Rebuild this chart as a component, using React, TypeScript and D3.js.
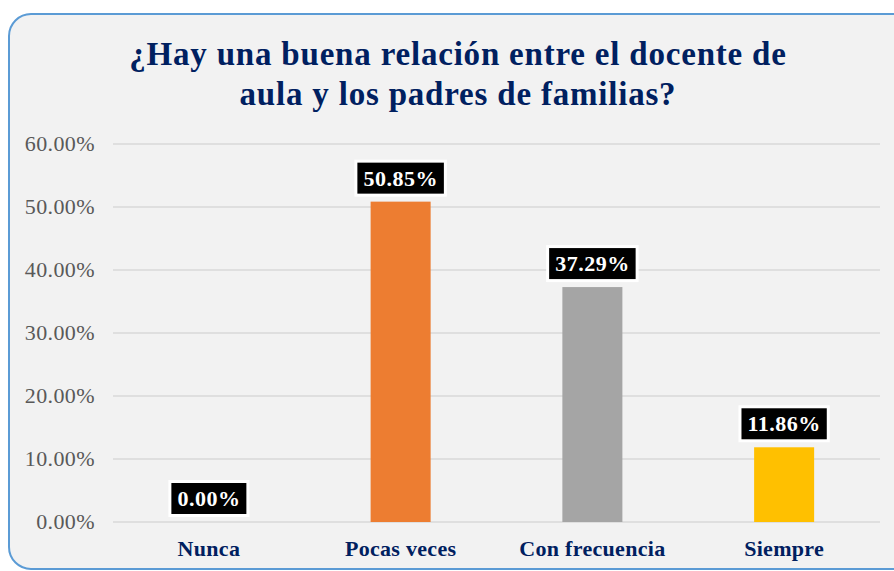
import React, { useEffect, useRef } from "react";
import * as d3 from "d3";

const categories = ["Nunca", "Pocas veces", "Con frecuencia", "Siempre"];
const values = [0, 50.85, 37.29, 11.86];
const barColors = ["#4472C4", "#ED7D31", "#A5A5A5", "#FFC000"];
const yTicks = [0, 10, 20, 30, 40, 50, 60];
const titleLines = ["¿Hay una buena relación entre el docente de", "aula y los padres de familias?"];

const W = 894;
const H = 571;
const SERIF = "'Liberation Serif', 'Times New Roman', serif";

export default function App() {
  const ref = useRef<SVGSVGElement | null>(null);

  useEffect(() => {
    const svg = d3.select(ref.current);
    svg.selectAll("*").remove();

    svg.append("rect").attr("x", 0).attr("y", 0).attr("width", W).attr("height", H).attr("fill", "#FFFFFF");
    svg
      .append("rect")
      .attr("x", 9)
      .attr("y", 14)
      .attr("width", 905)
      .attr("height", 555)
      .attr("rx", 22)
      .attr("fill", "#F2F2F2")
      .attr("stroke", "#5B9BD5")
      .attr("stroke-width", 2);

    const x = d3.scaleBand<string>().domain(categories).range([113, 880]).paddingInner(0.687).paddingOuter(0.3435);
    const y = d3.scaleLinear().domain([0, 60]).range([522, 144]);

    // title
    svg
      .append("g")
      .selectAll("text")
      .data(titleLines)
      .join("text")
      .attr("x", 458)
      .attr("y", (_d, i) => 65 + i * 40)
      .attr("text-anchor", "middle")
      .attr("font-family", SERIF)
      .attr("font-weight", "bold")
      .attr("font-size", 33)
      .attr("letter-spacing", 0.8)
      .attr("fill", "#002060")
      .text((d) => d);

    // grid
    const g = svg.append("g");
    g.selectAll("line.grid")
      .data(yTicks)
      .join("line")
      .attr("class", "grid")
      .attr("x1", 113)
      .attr("x2", 880)
      .attr("y1", (d) => y(d))
      .attr("y2", (d) => y(d))
      .attr("stroke", "#D9D9D9")
      .attr("stroke-width", 1.5);

    g.selectAll("text.tick")
      .data(yTicks)
      .join("text")
      .attr("class", "tick")
      .attr("x", 95)
      .attr("y", (d) => y(d) + 7)
      .attr("text-anchor", "end")
      .attr("font-family", SERIF)
      .attr("font-size", 22)
      .attr("letter-spacing", 0.4)
      .attr("fill", "#595959")
      .text((d) => d3.format(".2f")(d) + "%");

    // bars
    g.selectAll("rect.bar")
      .data(values)
      .join("rect")
      .attr("class", "bar")
      .attr("x", (_d, i) => x(categories[i])!)
      .attr("width", x.bandwidth())
      .attr("y", (d) => y(d))
      .attr("height", (d) => y(0) - y(d))
      .attr("fill", (_d, i) => barColors[i]);

    // category labels
    g.selectAll("text.cat")
      .data(categories)
      .join("text")
      .attr("class", "cat")
      .attr("x", (d) => x(d)! + x.bandwidth() / 2)
      .attr("y", 556)
      .attr("text-anchor", "middle")
      .attr("font-family", SERIF)
      .attr("font-weight", "bold")
      .attr("font-size", 22)
      .attr("letter-spacing", 0.3)
      .attr("fill", "#002060")
      .text((d) => d);

    // data labels
    values.forEach((v, i) => {
      const cx = x(categories[i])! + x.bandwidth() / 2;
      const bottom = y(v) - 5;
      const lg = g.append("g");
      const outer = lg.append("rect").attr("fill", "#FFFFFF");
      const inner = lg.append("rect").attr("fill", "#000000");
      const t = lg
        .append("text")
        .attr("x", cx)
        .attr("y", bottom - 11)
        .attr("text-anchor", "middle")
        .attr("font-family", SERIF)
        .attr("font-weight", "bold")
        .attr("font-size", 22)
        .attr("letter-spacing", 0.5)
        .attr("fill", "#FFFFFF")
        .text(d3.format(".2f")(v) + "%");
      const tw = (t.node() as SVGTextElement).getComputedTextLength();
      const iw = tw + 12;
      const ih = 31;
      inner
        .attr("x", cx - iw / 2)
        .attr("y", bottom - 3 - ih)
        .attr("width", iw)
        .attr("height", ih);
      outer
        .attr("x", cx - iw / 2 - 3)
        .attr("y", bottom - ih - 6)
        .attr("width", iw + 6)
        .attr("height", ih + 6);
    });
  }, []);

  return (
    <svg
      ref={ref}
      width={W}
      height={H}
      style={{ position: "absolute", left: 0, top: 0, display: "block" }}
    />
  );
}
